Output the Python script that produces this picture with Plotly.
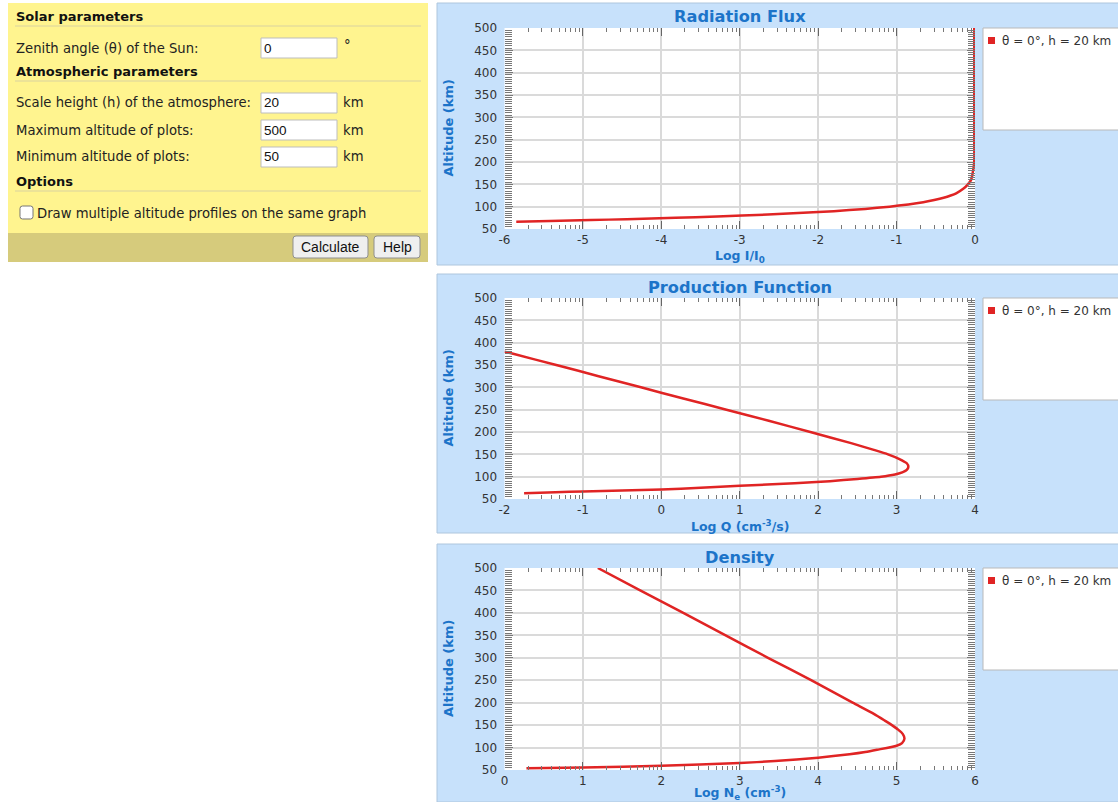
import math
import plotly.graph_objects as go

W, H = 1118, 802

# ---------------- data (altitude in km, log10 values) ----------------
flux_alt = [66.5, 68, 70, 72, 75, 78, 80, 85, 90, 95, 100, 105, 110, 115, 120,
            125, 130, 140, 150, 160, 175, 200, 250, 300, 400, 500]
flux_log = [-5.85, -5.42, -4.90, -4.44, -3.82, -3.29, -2.97, -2.32, -1.80, -1.40,
            -1.09, -0.85, -0.66, -0.52, -0.40, -0.31, -0.24, -0.15, -0.09, -0.05,
            -0.03, -0.01, -0.01, -0.01, -0.01, -0.01]

prod_alt = [63, 65, 67, 69, 71.3, 75, 79.6, 85, 90, 95, 100, 105, 110, 115, 122,
            130, 140, 150, 160, 175, 200, 225, 250, 275, 300, 325, 350, 375, 380]
prod_log = [-1.75, -1.35, -1.0, -0.5, 0.0, 0.5, 1.0, 1.7, 2.15, 2.5, 2.8, 2.98,
            3.08, 3.13, 3.15, 3.13, 3.03, 2.89, 2.71, 2.42, 1.90, 1.37, 0.83, 0.28,
            -0.26, -0.80, -1.34, -1.89, -2.0]

dens_alt = [54, 55.5, 59.5, 65.5, 70, 77.5, 85, 90, 95, 104, 110, 120, 130, 140,
            150, 160, 175, 200, 250, 300, 350, 400, 450, 500]
dens_log = [0.28, 1.0, 2.0, 3.0, 3.45, 4.0, 4.4, 4.6, 4.75, 5.0, 5.07, 5.1, 5.08,
            5.02, 4.94, 4.85, 4.71, 4.44, 3.91, 3.36, 2.82, 2.28, 1.73, 1.19]

panel_titles = ["Radiation Flux", "Production Function", "Density"]
x_titles = ["Log I/I<sub>0</sub>", "Log Q (cm<sup>-3</sup>/s)",
            "Log N<sub>e</sub> (cm<sup>-3</sup>)"]
x_tick_values = [[-6, -5, -4, -3, -2, -1, 0],
                 [-2, -1, 0, 1, 2, 3, 4],
                 [0, 1, 2, 3, 4, 5, 6]]
x_tick_labels = [["-6", "-5", "-4", "-3", "-2", "-1", "0"],
                 ["-2", "-1", "0", "1", "2", "3", "4"],
                 ["0", "1", "2", "3", "4", "5", "6"]]
alt_range = [50, 500]
y_title = "Altitude (km)"
legend_label = "θ = 0°, h = 20 km"

# form contents
form_headers = ["Solar parameters", "Atmospheric parameters", "Options"]
form_labels = ["Zenith angle (θ) of the Sun:", "Scale height (h) of the atmosphere:",
               "Maximum altitude of plots:", "Minimum altitude of plots:"]
form_values = ["0", "20", "500", "50"]
form_units = ["°", "km", "km", "km"]
option_label = "Draw multiple altitude profiles on the same graph"
buttons = ["Calculate", "Help"]

# ---------------- styling ----------------
FONT = "DejaVu Sans"
BLUE_TXT = "#1c74c9"
PANEL_BG = "#C7E1FB"
PANEL_EDGE = "#AEC6DD"
LINE_RED = "#E02424"
TICK_TXT = "#333333"
YELLOW = "#FFF48F"
OLIVE = "#D6CB7C"
FORM_SIZE = 13.2


def fx(x):
    return x / W


def fy(y):
    return 1 - y / H


shapes = []
annotations = []


def rect(x0, y0, x1, y1, fill, line=None, lw=1, layer="below"):
    shapes.append(dict(type="rect", xref="paper", yref="paper",
                       x0=fx(x0), x1=fx(x1), y0=fy(y1), y1=fy(y0),
                       fillcolor=fill, layer=layer,
                       line=dict(color=line or fill, width=lw if line else 0)))


def rrect(x0, y0, x1, y1, r, fill, line, lw=1, layer="above"):
    pts = [
        ("M", x0 + r, y0), ("L", x1 - r, y0), ("Q", x1, y0, x1, y0 + r),
        ("L", x1, y1 - r), ("Q", x1, y1, x1 - r, y1), ("L", x0 + r, y1),
        ("Q", x0, y1, x0, y1 - r), ("L", x0, y0 + r), ("Q", x0, y0, x0 + r, y0),
    ]
    d = ""
    for p in pts:
        cmd, coords = p[0], p[1:]
        xy = []
        for i in range(0, len(coords), 2):
            xy.append(f"{fx(coords[i]):.6f},{fy(coords[i + 1]):.6f}")
        d += cmd + " ".join(xy) + " "
    shapes.append(dict(type="path", xref="paper", yref="paper", path=d + "Z",
                       fillcolor=fill, line=dict(color=line, width=lw), layer=layer))


def hline(x0, x1, y, color, width=1):
    shapes.append(dict(type="line", xref="paper", yref="paper",
                       x0=fx(x0), x1=fx(x1), y0=fy(y), y1=fy(y),
                       line=dict(color=color, width=width), layer="above"))


def text(x, y, s, size=12, color="#111", xanchor="left", family=FONT,
         angle=0, yanchor="middle"):
    annotations.append(dict(xref="paper", yref="paper", x=fx(x), y=fy(y),
                            text=s, showarrow=False, xanchor=xanchor,
                            yanchor=yanchor, textangle=angle,
                            font=dict(family=family, size=size, color=color)))


# ---------------- input form ----------------
FL, FR, FT, FB = 8, 428, 3, 262
rect(FL, FT, FR, FB, YELLOW)
rect(FL, 233, FR, FB, OLIVE)

header_y = [17, 72, 182]
for s, hy in zip(form_headers, header_y):
    text(14, hy, f"<b>{s}</b>", size=13, color="#111")
    hline(15, 421, hy + 9, "#D9D2A0", 1)

field_y = [48, 103, 130, 157]
for lab, val, unit, yy in zip(form_labels, form_values, form_units, field_y):
    text(14, yy, lab, size=FORM_SIZE, color="#222")
    rect(261, yy - 10, 337, yy + 10, "white", "#BDBDBD", 1, layer="above")
    text(262, yy, val, size=13.5, color="#111", family="Liberation Sans")
    if unit == "°":
        text(342, yy - 2, unit, size=FORM_SIZE, color="#222")
    else:
        text(341, yy, unit, size=FORM_SIZE, color="#222")

rrect(20, 206, 33, 219, 2.5, "white", "#767676", 1)
text(35, 214, option_label, size=FORM_SIZE, color="#222")

rrect(293, 236, 368, 258, 3, "#EFEFEF", "#8F8F8F", 1)
text(330.5, 247, buttons[0], size=14, color="#111", xanchor="center",
     family="Liberation Sans")
rrect(374, 236, 420, 258, 3, "#EFEFEF", "#8F8F8F", 1)
text(397, 247, buttons[1], size=14, color="#111", xanchor="center",
     family="Liberation Sans")

# ---------------- chart panels ----------------
panels_px = [(3, 265), (274, 533), (544, 802)]
plot_px = [(28, 229), (298, 499), (568, 770)]
x_title_y = [256, 525.5, 793]
PL, PR = 504.5, 975
series = [(flux_log, flux_alt), (prod_log, prod_alt), (dens_log, dens_alt)]

fig = go.Figure()
layout_axes = {}

for i in range(3):
    top, bot = panels_px[i]
    ptop, pbot = plot_px[i]
    rect(437, top, W + 2, bot, PANEL_BG, PANEL_EDGE, 1)
    rect(PL, ptop, PR, pbot, "white")

    # legend box
    rect(983, ptop, W + 3, ptop + 102, "white", "#B9B9B9", 1, layer="above")
    rect(988, ptop + 9, 995, ptop + 16, LINE_RED, layer="above")
    text(1000, ptop + 13, legend_label, size=12, color="#333")

    # titles
    text((PL + PR) / 2, top + 13.5, f"<b>{panel_titles[i]}</b>", size=16.2,
         color=BLUE_TXT, xanchor="center")
    text((PL + PR) / 2, x_title_y[i], f"<b>{x_titles[i]}</b>", size=12.5,
         color=BLUE_TXT, xanchor="center")
    text(448, (ptop + pbot) / 2, f"<b>{y_title}</b>", size=13,
         color=BLUE_TXT, xanchor="center", angle=-90)

    suffix = "" if i == 0 else str(i + 1)
    xv = x_tick_values[i]
    xr = [xv[0], xv[-1]]
    minor_x = [k + math.log10(m) for k in range(xr[0], xr[1]) for m in range(2, 10)]
    tickfont = dict(family=FONT, size=12, color=TICK_TXT)
    layout_axes["xaxis" + suffix] = dict(
        domain=[fx(PL), fx(PR)], range=xr, anchor="y" + suffix,
        tickmode="array", tickvals=xv, ticktext=x_tick_labels[i],
        ticks="inside", ticklen=8, tickwidth=1.4, tickcolor="#666",
        mirror="ticks", showline=True, linecolor="rgba(0,0,0,0)",
        showgrid=True, gridcolor="#DADADA", gridwidth=1.5, zeroline=False,
        tickfont=tickfont, automargin=False, fixedrange=True,
        minor=dict(tickmode="array", tickvals=minor_x, ticks="inside",
                   ticklen=4, tickwidth=1, tickcolor="#777", showgrid=False),
    )
    layout_axes["yaxis" + suffix] = dict(
        domain=[fy(pbot), fy(ptop)], range=alt_range, anchor="x" + suffix,
        tickmode="linear", tick0=50, dtick=50,
        ticks="inside", ticklen=8, tickwidth=1, tickcolor="#777",
        mirror="ticks", showline=True, linecolor="rgba(0,0,0,0)",
        showgrid=True, gridcolor="#DADADA", gridwidth=1.5, zeroline=False,
        tickfont=tickfont, automargin=False, fixedrange=True,
        ticklabelstandoff=4,
        minor=dict(dtick=5, ticks="inside", ticklen=7, tickwidth=1,
                   tickcolor="#777", showgrid=False),
    )

    xs, ys = series[i]
    fig.add_trace(go.Scatter(
        x=xs, y=ys, mode="lines", name=legend_label,
        line=dict(color=LINE_RED, width=2.5, shape="spline", smoothing=0.6),
        xaxis="x" + suffix, yaxis="y" + suffix,
        showlegend=False, hoverinfo="skip"))

fig.update_layout(
    width=W, height=H,
    margin=dict(l=0, r=0, t=0, b=0, autoexpand=False),
    paper_bgcolor="white", plot_bgcolor="rgba(0,0,0,0)",
    showlegend=False,
    shapes=shapes, annotations=annotations,
    **layout_axes,
)

fig.write_html("out.html", config=dict(displayModeBar=False))
